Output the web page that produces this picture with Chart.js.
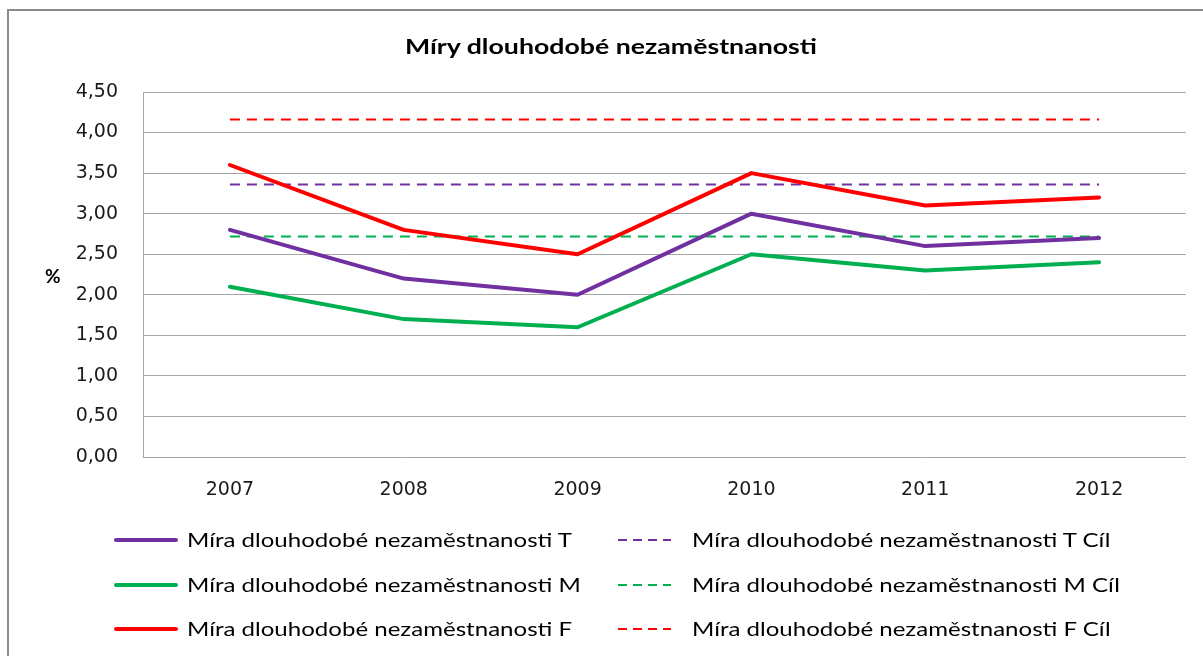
<!DOCTYPE html>
<html>
<head>
<meta charset="utf-8">
<script src="https://cdn.jsdelivr.net/npm/chart.js@4"></script>
<style>
    body { margin: 0; background: #fff; font-family: Lato, "Open Sans", sans-serif; color: #000; }
    #wrap { position: relative; width: 1203px; height: 656px; overflow: hidden; }
    #frame { position: absolute; left: 7px; top: 9px; width: 1300px; height: 700px; border: 2px solid #8c8c8c; box-sizing: border-box; }
    #title { position: absolute; left: 611px; top: 34px; font-weight: bold; font-size: 20px; white-space: nowrap; transform-origin: 0 0; }
    #unit { position: absolute; left: 45px; top: 264px; font-weight: bold; font-size: 19px; }
    canvas { position: absolute; left: 0; top: 0; }
    .leg { position: absolute; font-size: 19px; white-space: nowrap; line-height: 24px; transform-origin: 0 50%; }
    .sw { position: absolute; }
</style>
</head>
<body>
<div id="wrap">
    <div id="frame"></div>
    <canvas id="chart" width="1203" height="656"></canvas>
    <div id="title">Míry dlouhodobé nezaměstnanosti</div>
    <div id="unit">%</div>
    <div id="legend"></div>
</div>
<script>
const years = ["2007", "2008", "2009", "2010", "2011", "2012"];
const rateT = [2.8, 2.2, 2.0, 3.0, 2.6, 2.7];
const rateM = [2.1, 1.7, 1.6, 2.5, 2.3, 2.4];
const rateF = [3.6, 2.8, 2.5, 3.5, 3.1, 3.2];
const targetT = [3.36, 3.36, 3.36, 3.36, 3.36, 3.36];
const targetM = [2.72, 2.72, 2.72, 2.72, 2.72, 2.72];
const targetF = [4.16, 4.16, 4.16, 4.16, 4.16, 4.16];

const purple = "#7030a0";
const green = "#00b050";
const red = "#ff0000";

function solid(label, data, color) {
    return { label: label, data: data, borderColor: color, backgroundColor: color,
        borderWidth: 4, pointRadius: 0, tension: 0, borderCapStyle: "round", borderJoinStyle: "round" };
}
function dashed(label, data, color) {
    return { label: label, data: data, borderColor: color, backgroundColor: color,
        borderWidth: 2, borderDash: [10, 7], pointRadius: 0, tension: 0 };
}

const tickFont = { family: "DejaVu Sans", size: 19 };

const chart = new Chart("chart", {
    type: "line",
    data: {
        labels: years,
        datasets: [
            solid("Míra dlouhodobé nezaměstnanosti T", rateT, purple),
            solid("Míra dlouhodobé nezaměstnanosti M", rateM, green),
            solid("Míra dlouhodobé nezaměstnanosti F", rateF, red),
            dashed("Míra dlouhodobé nezaměstnanosti T Cíl", targetT, purple),
            dashed("Míra dlouhodobé nezaměstnanosti M Cíl", targetM, green),
            dashed("Míra dlouhodobé nezaměstnanosti F Cíl", targetF, red)
        ]
    },
    options: {
        responsive: false,
        animation: false,
        layout: { padding: { left: 0, top: 92, right: 17, bottom: 149 } },
        plugins: { legend: { display: false }, tooltip: { enabled: false } },
        scales: {
            x: {
                offset: true,
                grid: { display: false, drawTicks: false },
                border: { display: false },
                ticks: { color: "#1a1a1a", padding: 22, font: tickFont },
                afterFit: (scale) => { scale.height = 50; }
            },
            y: {
                min: 0,
                max: 4.5,
                grid: { color: "#a6a6a6", lineWidth: 1, drawTicks: false },
                border: { color: "#a6a6a6", width: 1 },
                ticks: {
                    stepSize: 0.5,
                    padding: 25,
                    color: "#1a1a1a",
                    font: tickFont,
                    callback: (v) => v.toFixed(2).replace(".", ",")
                },
                afterFit: (scale) => { scale.width = 143; }
            }
        }
    }
});

// the source picture is stretched sideways, so text is fitted to its measured widths
function fitWidth(el, target) {
    const w = el.getBoundingClientRect().width;
    return target / w;
}

const title = document.getElementById("title");
const ts = fitWidth(title, 412);
title.style.transform = "translateX(-206px) scaleX(" + ts + ")";

// legend in two columns, built from the datasets
const legend = document.getElementById("legend");
const rowsY = [540, 585, 629];
let legScale = null;
chart.data.datasets.forEach((ds, i) => {
    const col = i < 3 ? 0 : 1;
    const row = i % 3;
    const y = rowsY[row];
    const sw = document.createElement("div");
    sw.className = "sw";
    if (col === 0) {
        sw.style.left = "114px";
        sw.style.width = "64px";
        sw.style.top = (y - 2) + "px";
        sw.style.height = "4px";
        sw.style.borderRadius = "2px";
        sw.style.background = ds.borderColor;
    } else {
        sw.style.left = "618px";
        sw.style.width = "53px";
        sw.style.top = (y - 1) + "px";
        sw.style.height = "2px";
        sw.style.background = "repeating-linear-gradient(to right, " + ds.borderColor + " 0 9px, transparent 9px 15px)";
    }
    legend.appendChild(sw);
    const txt = document.createElement("div");
    txt.className = "leg";
    txt.textContent = ds.label;
    txt.style.left = (col === 0 ? 187 : 692) + "px";
    txt.style.top = (y - 12) + "px";
    legend.appendChild(txt);
    if (legScale === null) legScale = fitWidth(txt, 385);
    txt.style.transform = "scaleX(" + legScale + ")";
});
</script>
</body>
</html>
